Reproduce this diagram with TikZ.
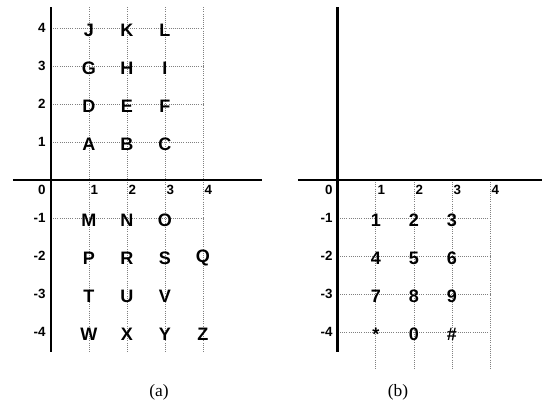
\documentclass[tikz,border=0pt]{standalone}
\usepackage{fontspec}
\setmainfont{Liberation Serif}
\setsansfont{Liberation Sans}

\begin{document}
\begin{tikzpicture}[
    axis/.style={line width=2.2pt},
    gridline/.style={gray, densely dotted, line width=0.6pt},
    key/.style={font=\sffamily\bfseries\fontsize{13.5}{14}\selectfont, inner sep=0pt},
    tick/.style={font=\sffamily\bfseries\fontsize{10}{11}\selectfont, inner sep=1pt},
    caption/.style={font=\fontsize{13}{15}\selectfont}
  ]
  \useasboundingbox (-1.342,-5.974) rectangle (12.921,4.737);

  % (a) letters
  \foreach \y in {1,2,3,4,-1}
    \draw[gridline] (0,\y) -- (4,\y);
  \foreach \x in {1,...,4}
    \draw[gridline] (\x,4.55) -- (\x,-4.52);
  \draw[axis] (-1,0) -- (5.55,0);
  \draw[axis] (0,4.55) -- (0,-4.52);
  \node[tick, anchor=east] (a0) at (-0.1,-0.27) {0};
  \foreach \x in {1,...,4}
    \node[tick, anchor=west] (ax\x) at (\x,-0.27) {\x};
  \foreach \y [count=\i] in {4,3,2,1,-1,-2,-3,-4}
    \node[tick, anchor=east] (ay\i) at (-0.1,\y) {\y};
  \foreach \l/\x/\y in {J/1/4, K/2/4, L/3/4, G/1/3, H/2/3, I/3/3,
                        D/1/2, E/2/2, F/3/2, A/1/1, B/2/1, C/3/1,
                        M/1/-1, N/2/-1, O/3/-1, P/1/-2, R/2/-2, S/3/-2, Q/4/-2,
                        T/1/-3, U/2/-3, V/3/-3, W/1/-4, X/2/-4, Y/3/-4, Z/4/-4} {
    \node[key] (\l) at (\x,\y-0.05) {\l};
  }
  \node[caption] (capA) at (2.84,-5.58) {(a)};

  % (b) keypad
  \begin{scope}[xshift=7.55cm]
    \foreach \y in {-1,...,-4}
      \draw[gridline] (0,\y) -- (4,\y);
    \foreach \x in {1,...,4}
      \draw[gridline] (\x,0) -- (\x,-4.95);
    \draw[axis] (-1.05,0) -- (5.38,0);
    \draw[axis] (0,4.55) -- (0,-4.52);
    \node[tick, anchor=east] (b0) at (-0.1,-0.27) {0};
    \foreach \x in {1,...,4}
      \node[tick, anchor=west] (bx\x) at (\x,-0.27) {\x};
    \foreach \y [count=\i] in {-1,-2,-3,-4}
      \node[tick, anchor=east] (by\i) at (-0.1,\y) {\y};
    \foreach \d/\x/\y [count=\i] in {1/1/-1, 2/2/-1, 3/3/-1, 4/1/-2, 5/2/-2, 6/3/-2,
                                     7/1/-3, 8/2/-3, 9/3/-3, */1/-4, 0/2/-4, \#/3/-4} {
      \node[key] (k\i) at (\x,\y-0.05) {\d};
    }
    \node[caption] (capB) at (1.58,-5.58) {(b)};
  \end{scope}
\end{tikzpicture}
\end{document}
